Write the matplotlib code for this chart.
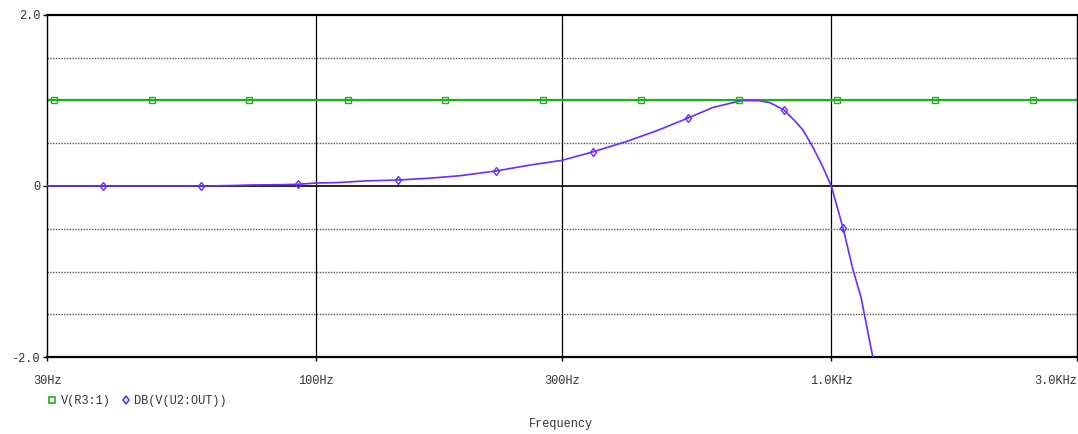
import numpy as np
import matplotlib.pyplot as plt
from matplotlib.lines import Line2D

# ---------------- data ----------------
freq_hz = [30, 38.5, 50, 59.6, 68, 75, 85, 92.3, 100, 110, 125, 144, 165,
           190, 223, 260, 300, 345, 400, 460, 527, 590, 671, 720, 760,
           809, 850, 881, 921, 963, 1000, 1054, 1102, 1142, 1204, 1300]
db_out = [0.0, 0.0, 0.0, 0.0, 0.005, 0.012, 0.015, 0.02, 0.035, 0.04, 0.06,
          0.07, 0.09, 0.12, 0.175, 0.245, 0.30, 0.40, 0.52, 0.65, 0.795,
          0.92, 1.0, 1.0, 0.975, 0.89, 0.76, 0.655, 0.456, 0.222, 0.0,
          -0.49, -0.98, -1.30, -2.0, -3.0]

db_mark_hz = [38.5, 59.6, 92.3, 144, 223, 345, 527, 809, 1054]
db_mark_val = [0.0, 0.0, 0.02, 0.07, 0.175, 0.40, 0.795, 0.89, -0.49]

vr3_mark_hz = [30.9, 47.9, 74.1, 115, 178, 276, 427, 662, 1025, 1590, 2460]
vr3_level = 1.0

x_ticks = [30, 100, 300, 1000, 3000]
x_labels = ["30Hz", "100Hz", "300Hz", "1.0KHz", "3.0KHz"]
y_ticks = [-2.0, 0, 2.0]
y_labels = ["-2.0", "0", "2.0"]

GREEN = "#1fb01f"
PURPLE = "#6a2cff"
TXT = "#333333"
FONT = "Liberation Mono"
FS = 8.6

# ---------------- figure ----------------
fig = plt.figure(figsize=(10.78, 4.34), dpi=100)
ax = fig.add_axes([47 / 1078, 77 / 434, 1030 / 1078, 342 / 434])

ax.set_xscale("log")
ax.set_xlim(30, 3000)
ax.set_ylim(-2.0, 2.0)

# grid
for f in [100, 300, 1000]:
    ax.axvline(f, color="black", lw=0.9, zorder=1)
for yv in [-1.5, -1.0, -0.5, 0.5, 1.0, 1.5]:
    ax.axhline(yv, color="#555555", lw=1.0, ls=(0, (1, 1)), zorder=1)
ax.axhline(0, color="black", lw=1.2, zorder=1)

# traces
ax.plot(freq_hz, db_out, color=PURPLE, lw=1.2, zorder=3)
ax.plot(db_mark_hz, db_mark_val, ls="none", marker="d", ms=4.5,
        mfc="none", mec=PURPLE, mew=1.0, zorder=4)
ax.axhline(vr3_level, color=GREEN, lw=1.6, zorder=2)
ax.plot(vr3_mark_hz, [vr3_level] * len(vr3_mark_hz), ls="none",
        marker="s", ms=4.5, mfc="none", mec=GREEN, mew=1.0, zorder=4)

# axes frame and ticks
for side in ["top", "bottom"]:
    ax.spines[side].set_linewidth(1.6)
for side in ["left", "right"]:
    ax.spines[side].set_linewidth(1.0)

ax.set_xticks(x_ticks)
ax.set_xticklabels(x_labels)
ax.xaxis.set_minor_locator(plt.NullLocator())
ax.set_yticks(y_ticks)
ax.set_yticklabels(y_labels)
ax.tick_params(axis="both", length=3, width=1.0, color="black",
               labelsize=FS, labelcolor=TXT, pad=2)
ax.tick_params(axis="x", pad=10)
for lab in ax.get_xticklabels() + ax.get_yticklabels():
    lab.set_family(FONT)
ax.get_xticklabels()[-1].set_horizontalalignment("right")

# legend below the plot
handles = [
    Line2D([], [], ls="none", marker="s", ms=4, mfc="none", mec=GREEN,
           mew=1.2, label="V(R3:1)"),
    Line2D([], [], ls="none", marker="d", ms=4.5, mfc="none", mec=PURPLE,
           mew=1.2, label="DB(V(U2:OUT))"),
]
fig.legend(handles=handles, loc="center left",
           bbox_to_anchor=(38 / 1078, 1 - 401 / 434), ncol=2, frameon=False,
           handlelength=0.6, handletextpad=0.4, columnspacing=1.0,
           prop={"family": FONT, "size": FS}, labelcolor=TXT)

fig.text(561 / 1078, 1 - 424 / 434, "Frequency", ha="center", va="center",
         family=FONT, fontsize=FS, color=TXT)

fig.savefig("out.png", dpi=100)
